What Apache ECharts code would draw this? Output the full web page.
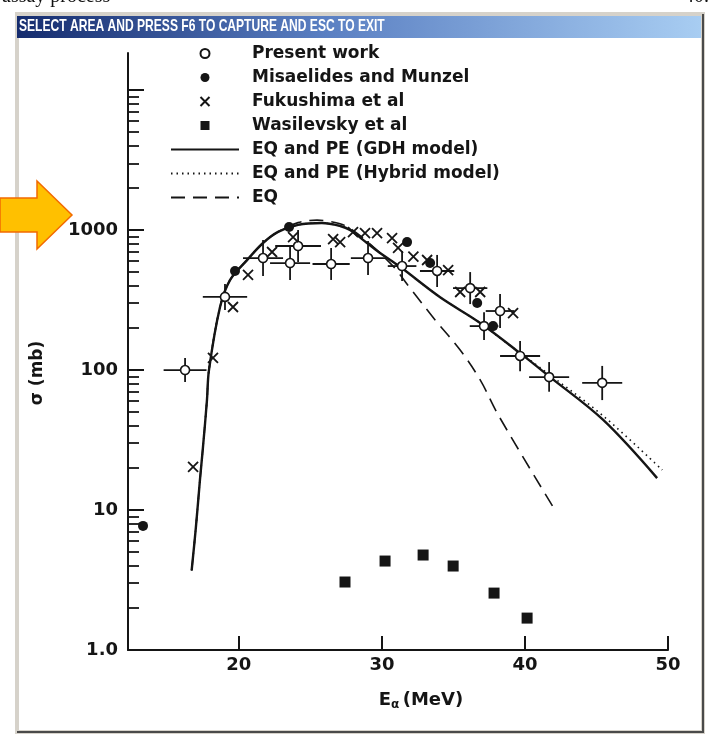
<!DOCTYPE html>
<html>
<head>
<meta charset="utf-8">
<title>σ vs Eα</title>
<script src="https://cdn.jsdelivr.net/npm/echarts@6/dist/echarts.min.js"></script>
<style>
  html, body { margin: 0; padding: 0; background: #fff; }
  #chart { width: 712px; height: 735px; }
</style>
</head>
<body>
<div id="chart"></div>
<script>
// 图中读取的数据（E 单位 MeV，σ 单位 mb）
const presentE = [16.24, 19.03, 21.69, 23.58, 24.14, 26.45, 29.03, 31.41, 33.86, 36.17, 38.26, 37.14, 39.66, 41.69, 45.4];
const presentSigma = [100, 333, 631, 581, 769, 572, 631, 553, 510, 385, 264, 206, 126, 89, 81];
const presentErrE = [1.5, 1.55, 1.4, 1.4, 1.6, 1.3, 1.2, 1.0, 1.2, 1.2, 1.0, 1.0, 1.4, 1.4, 1.4];
const presentSigmaLo = [82, 269, 469, 439, 591, 440, 477, 432, 392, 296, 200, 164, 98, 70, 61];
const presentSigmaHi = [122, 412, 849, 769, 1000, 744, 835, 708, 664, 501, 349, 259, 161, 114, 107];

const misE = [13.3, 19.73, 23.51, 31.76, 33.37, 36.66, 37.77];
const misSigma = [7.7, 510, 1050, 820, 581, 301, 206];

const fukE = [16.8, 18.19, 19.59, 20.64, 22.32, 23.79, 26.59, 27.08, 27.98, 28.82, 29.66, 30.71, 31.13, 32.2, 33.16, 34.63, 35.47, 36.87, 39.17];
const fukSigma = [20.3, 122, 282, 478, 697, 891, 862, 820, 968, 952, 952, 877, 747, 645, 611, 518, 361, 361, 255];

const wasE = [27.42, 30.22, 32.88, 34.98, 37.84, 40.15];
const wasSigma = [3.06, 4.32, 4.77, 3.98, 2.55, 1.69];

// 理论曲线
const gdhE = [16.7, 17.0, 17.28, 17.49, 17.77, 17.91, 18.68, 19.38, 20.57, 21.69, 22.74, 24.14, 25.8, 27.08, 27.77, 28.96, 29.87, 31.27, 34.07, 36.87, 39.66, 41.76, 45.47, 49.24];
const gdhSigma = [3.7, 7.6, 16.4, 28, 61, 100, 281, 439, 610, 808, 970, 1090, 1123, 1069, 1000, 808, 685, 546, 331, 217, 132, 89, 44, 16.9];

const hybE = [16.7, 17.0, 17.28, 17.49, 17.77, 17.91, 18.68, 19.38, 20.57, 21.69, 22.74, 24.14, 25.8, 27.08, 27.77, 28.96, 29.87, 31.27, 34.07, 36.87, 38.5, 41.76, 45.47, 49.6];
const hybSigma = [3.7, 7.6, 16.4, 28, 61, 100, 281, 439, 610, 808, 970, 1090, 1123, 1069, 1000, 808, 685, 546, 331, 217, 162, 92, 47, 19.3];

const eqE = [16.7, 17.0, 17.28, 17.49, 17.77, 17.91, 18.68, 19.38, 20.57, 21.69, 22.74, 24.14, 25.47, 26.38, 27.28, 28.2, 29.2, 30.22, 31.0, 31.97, 33.72, 35.47, 36.87, 38.12, 41.97];
const eqSigma = [3.7, 7.6, 16.4, 28, 61, 100, 281, 439, 610, 808, 970, 1130, 1177, 1150, 1090, 960, 790, 631, 520, 385, 228, 139, 85, 48, 10.5];

// 坐标轴刻度
const xTickValues = [20, 30, 40, 50];
const yLabelValues = [1, 10, 100, 1000];
const yMajorTicks = [1, 10, 100, 1000, 10000];
const yMinorTicks = [2, 3, 4, 5, 6, 7, 8, 9, 20, 30, 40, 50, 60, 70, 80, 90,
  200, 300, 400, 500, 600, 700, 800, 900, 2000, 3000, 4000, 5000, 6000, 7000, 8000, 9000];

const FONT = 'DejaVu Sans';
const INK = '#151515';
const SQUARE = 'path://M0,0L10,0L10,10L0,10Z';
const CROSS = 'path://M0,0L10,10M0,10L10,0';

const zip = (xs, ys) => xs.map((x, i) => [x, ys[i]]);

const errorRows = presentE.map((e, i) => [e, presentSigma[i], presentErrE[i], presentSigmaLo[i], presentSigmaHi[i]]);

// 误差棒：用坐标系换算端点
function renderErrorBar(params, api) {
  const e = api.value(0), s = api.value(1), de = api.value(2);
  const left = api.coord([e - de, s]);
  const right = api.coord([e + de, s]);
  const top = api.coord([e, api.value(4)]);
  const bottom = api.coord([e, api.value(3)]);
  const style = { stroke: INK, lineWidth: 1.8 };
  return {
    type: 'group',
    children: [
      { type: 'line', shape: { x1: left[0], y1: left[1], x2: right[0], y2: right[1] }, style },
      { type: 'line', shape: { x1: top[0], y1: top[1], x2: bottom[0], y2: bottom[1] }, style }
    ]
  };
}

const lineBase = { type: 'line', symbol: 'none', showSymbol: false, smooth: 0.35, z: 3 };
// 图例里的线条样例不要圆点
const noDot = { color: 'rgba(0,0,0,0)', borderColor: 'rgba(0,0,0,0)', borderWidth: 0 };

const option = {
  backgroundColor: '#fff',
  animation: false,
  grid: { left: 128, right: 44, top: 53, bottom: 85, outerBoundsMode: 'none' },
  legend: {
    orient: 'vertical',
    left: 165,
    top: 40,
    itemWidth: 68,
    itemHeight: 9,
    itemGap: 7,
    textStyle: { fontFamily: FONT, fontSize: 17, fontWeight: 'bold', color: INK, padding: [0, 0, 0, 8] },
    data: [
      'Present work', 'Misaelides and Munzel', 'Fukushima et al', 'Wasilevsky et al',
      { name: 'EQ and PE (GDH model)', itemStyle: noDot },
      { name: 'EQ and PE (Hybrid model)', itemStyle: noDot },
      { name: 'EQ', itemStyle: noDot }
    ]
  },
  xAxis: {
    type: 'value',
    min: 12.25,
    max: 50,
    splitLine: { show: false },
    axisLine: { show: true, lineStyle: { color: INK, width: 2 } },
    axisTick: { show: true, inside: true, length: 14, customValues: xTickValues, lineStyle: { color: INK, width: 2 } },
    axisLabel: { customValues: xTickValues, margin: 6, fontFamily: FONT, fontSize: 18, fontWeight: 'bold', color: INK }
  },
  yAxis: [
    {
      type: 'log',
      logBase: 10,
      min: 1,
      max: 18400,
      splitLine: { show: false },
      axisLine: { show: true, lineStyle: { color: INK, width: 2 } },
      axisTick: { show: true, inside: true, length: 11, customValues: yMinorTicks, lineStyle: { color: INK, width: 1.8 } },
      axisLabel: {
        customValues: yLabelValues,
        margin: 10,
        fontFamily: FONT, fontSize: 18, fontWeight: 'bold', color: INK,
        formatter: v => (v === 1 ? '1.0' : String(v))
      }
    },
    {
      type: 'log',
      logBase: 10,
      min: 1,
      max: 18400,
      position: 'left',
      splitLine: { show: false },
      axisLine: { show: false },
      axisTick: { show: true, inside: true, length: 16, customValues: yMajorTicks, lineStyle: { color: INK, width: 2 } },
      axisLabel: { show: false }
    }
  ],
  series: [
    {
      name: 'errbar',
      type: 'custom',
      renderItem: renderErrorBar,
      data: errorRows,
      encode: { x: 0, y: 1 },
      z: 2
    },
    Object.assign({}, lineBase, {
      name: 'EQ and PE (GDH model)',
      data: zip(gdhE, gdhSigma),
      lineStyle: { color: INK, width: 2.4, type: 'solid' },
      itemStyle: { color: INK }
    }),
    Object.assign({}, lineBase, {
      name: 'EQ and PE (Hybrid model)',
      data: zip(hybE, hybSigma),
      lineStyle: { color: INK, width: 1.6, type: [1.5, 4] },
      itemStyle: { color: INK }
    }),
    Object.assign({}, lineBase, {
      name: 'EQ',
      data: zip(eqE, eqSigma),
      lineStyle: { color: INK, width: 1.6, type: [14, 8] },
      itemStyle: { color: INK }
    }),
    {
      name: 'Present work',
      type: 'scatter',
      symbol: 'circle',
      symbolSize: 9,
      data: zip(presentE, presentSigma),
      itemStyle: { color: '#fff', borderColor: INK, borderWidth: 1.6, opacity: 1 },
      z: 5
    },
    {
      name: 'Misaelides and Munzel',
      type: 'scatter',
      symbol: 'circle',
      symbolSize: 10,
      data: zip(misE, misSigma),
      itemStyle: { color: INK, opacity: 1 },
      z: 5
    },
    {
      name: 'Fukushima et al',
      type: 'scatter',
      symbol: CROSS,
      symbolSize: 10,
      data: zip(fukE, fukSigma),
      itemStyle: { color: 'transparent', borderColor: INK, borderWidth: 1.8, opacity: 1 },
      z: 5
    },
    {
      name: 'Wasilevsky et al',
      type: 'scatter',
      symbol: SQUARE,
      symbolSize: 11,
      data: zip(wasE, wasSigma),
      itemStyle: { color: INK, opacity: 1 },
      z: 5
    }
  ],
  graphic: [
    // 页面顶部被截断的文字
    { type: 'text', left: 2, top: -13, style: { text: 'assay process', font: '20px "Liberation Serif"', fill: '#111' } },
    { type: 'text', left: 684, top: -13, style: { text: '40.', font: '20px "Liberation Serif"', fill: '#111' } },
    // 截图窗口外框
    { type: 'rect', shape: { x: 17, y: 14, width: 686, height: 718 }, style: { fill: 'none', stroke: '#d6d2ca', lineWidth: 4 }, z: 10 },
    { type: 'polyline', shape: { points: [[703, 14], [703, 732], [17, 732]] }, style: { fill: 'none', stroke: '#4a4a4a', lineWidth: 2 }, z: 11 },
    {
      type: 'rect', shape: { x: 17, y: 16, width: 684, height: 22 }, z: 11,
      style: {
        fill: {
          type: 'linear', x: 0, y: 0, x2: 1, y2: 0,
          colorStops: [{ offset: 0, color: '#152c6e' }, { offset: 0.45, color: '#5a7fc2' }, { offset: 1, color: '#a8cdf2' }]
        }
      }
    },
    {
      type: 'text', x: 19, y: 18, scaleX: 0.71, z: 12,
      style: { text: 'SELECT AREA AND PRESS F6 TO CAPTURE AND ESC TO EXIT', font: 'bold 17px "Liberation Sans"', fill: '#fff' }
    },
    // 左侧橙色箭头
    {
      type: 'polygon', z: 12,
      shape: { points: [[0, 198], [37, 198], [37, 181], [72, 215], [37, 249], [37, 232], [0, 232]] },
      style: { fill: '#ffc000', stroke: '#f26a00', lineWidth: 1.5 }
    },
    // 坐标轴名称
    {
      type: 'text', x: 38, y: 373, rotation: Math.PI / 2, z: 12,
      style: { text: 'σ (mb)', font: `bold 17px "${FONT}"`, fill: INK, align: 'center', verticalAlign: 'middle' }
    },
    {
      type: 'text', x: 421, y: 700, z: 12,
      style: {
        text: '{e|E}{s|α} {e|(MeV)}', align: 'center', verticalAlign: 'middle',
        rich: {
          e: { fontFamily: FONT, fontWeight: 'bold', fontSize: 18, fill: INK },
          s: { fontFamily: FONT, fontWeight: 'bold', fontSize: 12, fill: INK, padding: [10, 0, 0, 0] }
        }
      }
    }
  ]
};

const chart = echarts.init(document.getElementById('chart'), null, { renderer: 'canvas' });
chart.setOption(option);
</script>
</body>
</html>
